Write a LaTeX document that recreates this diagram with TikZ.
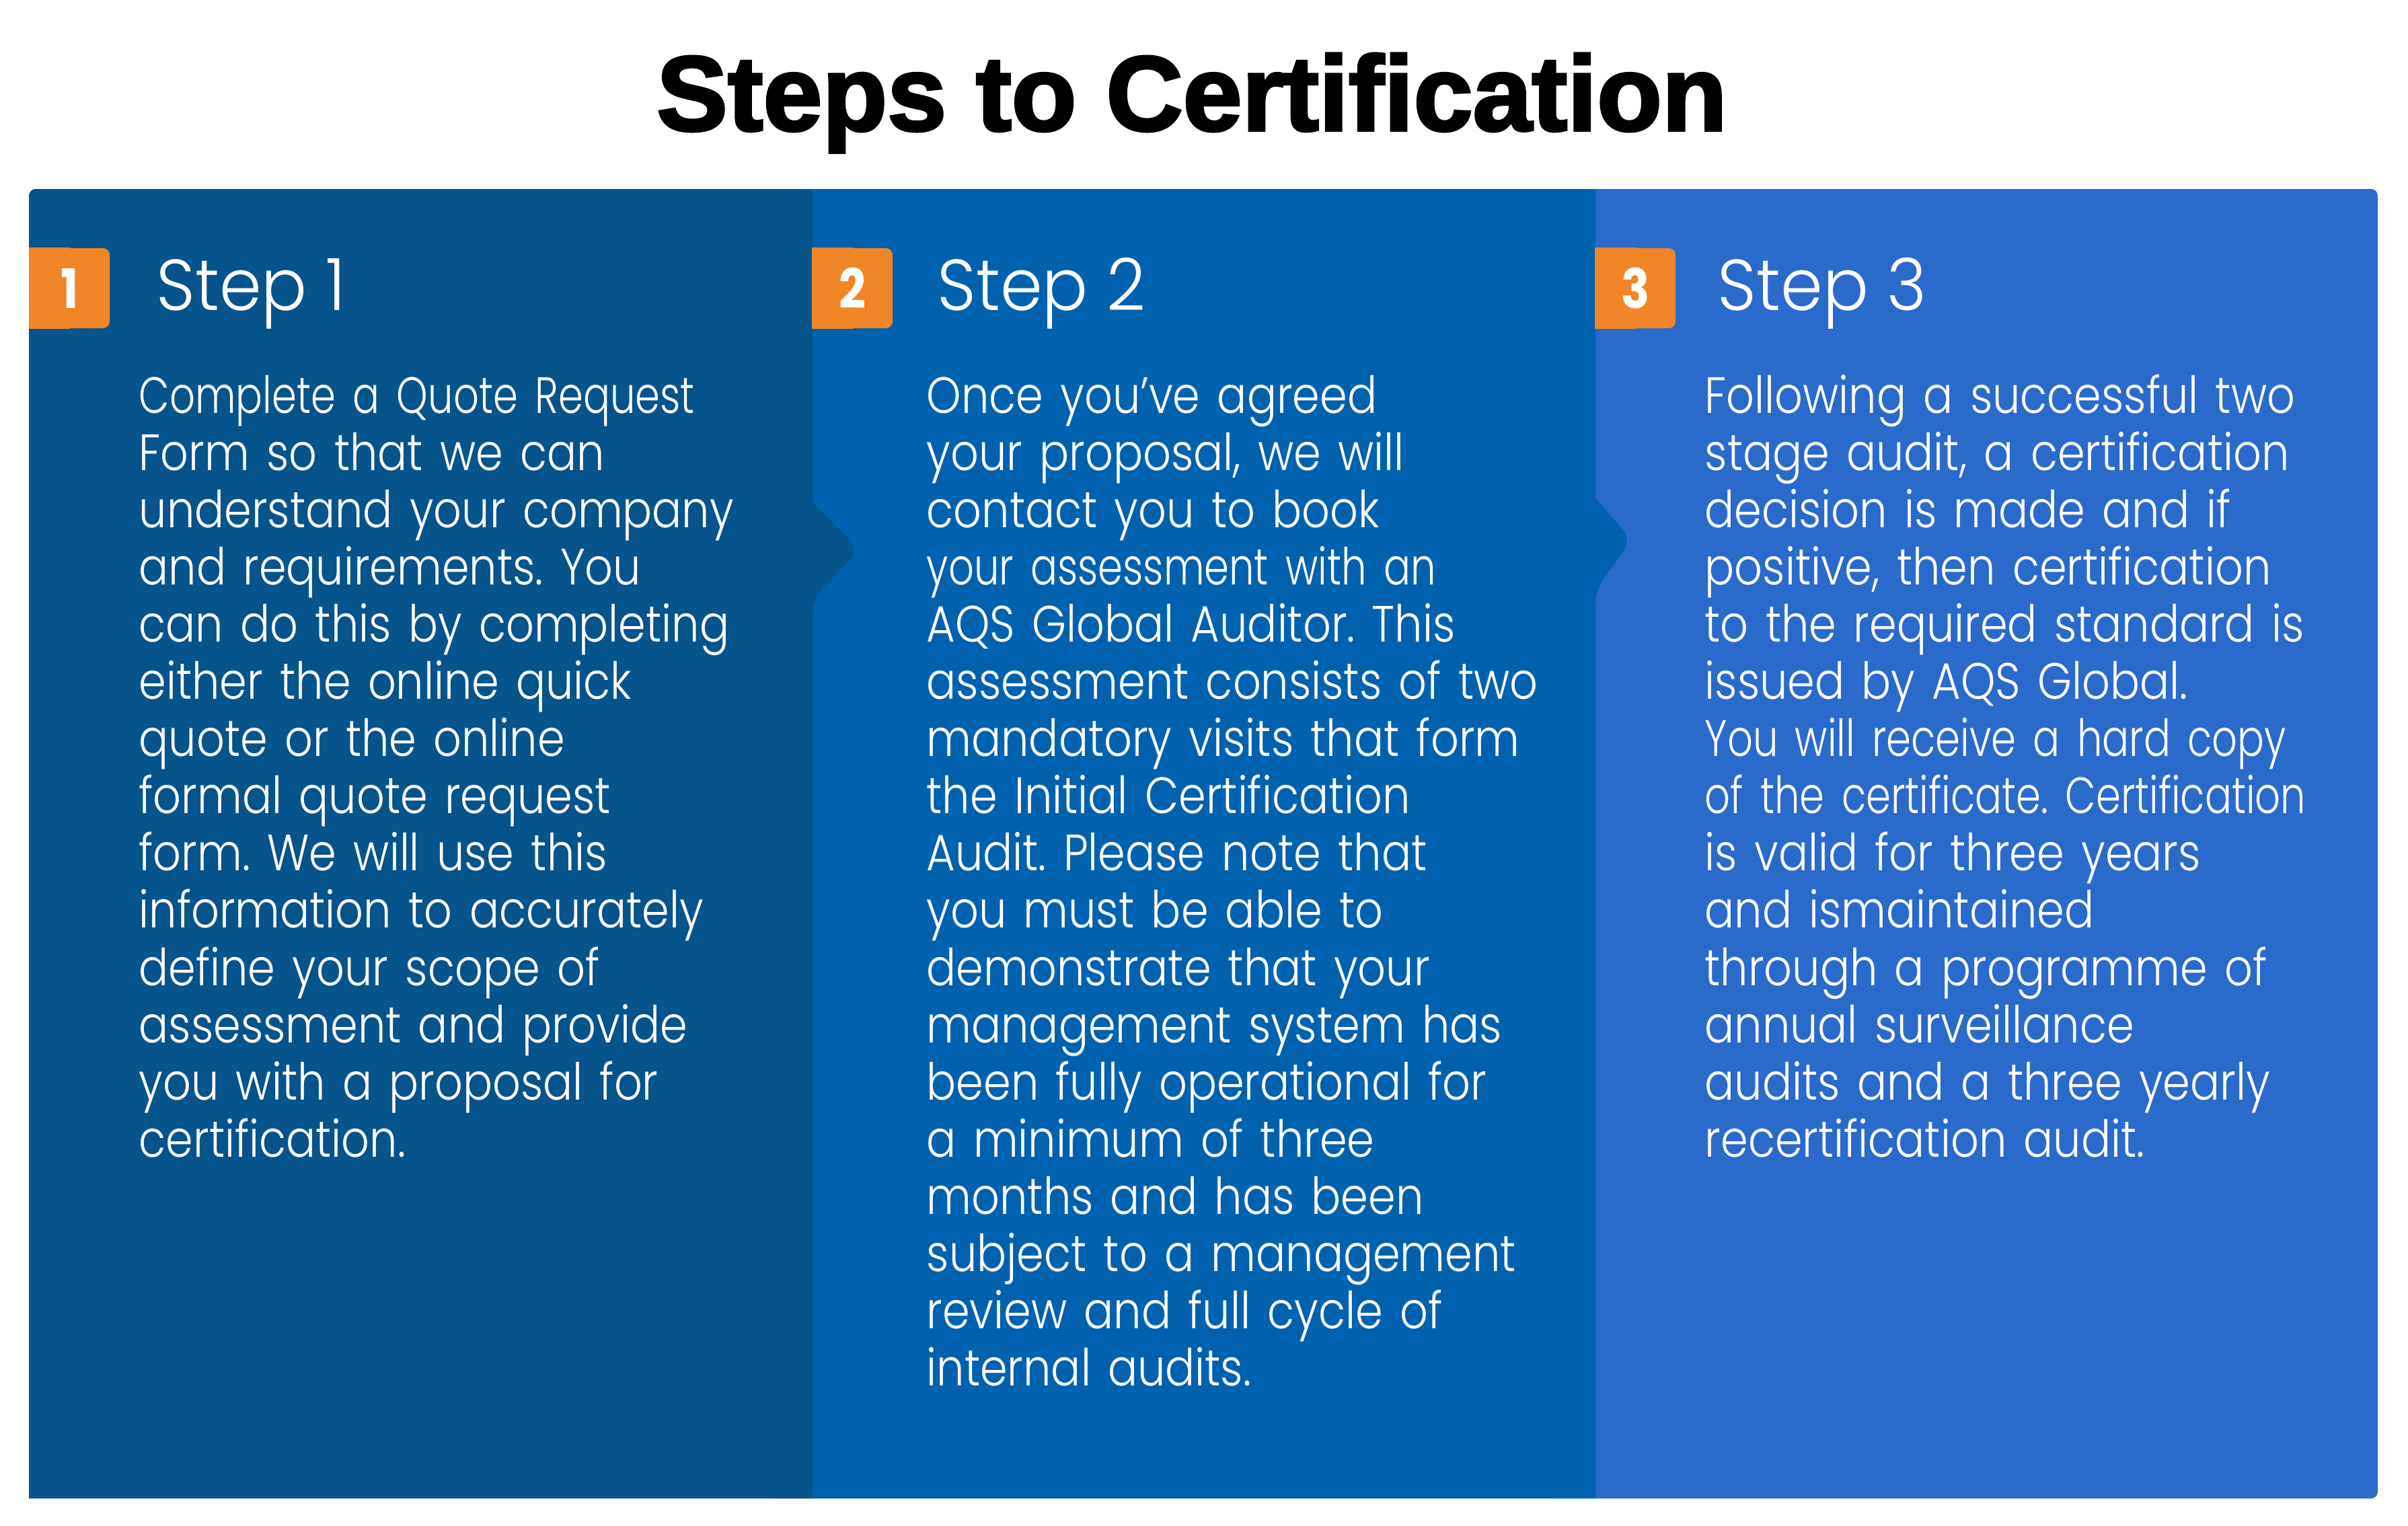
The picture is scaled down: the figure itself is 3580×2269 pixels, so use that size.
\documentclass[tikz,border=0pt]{standalone}
\usepackage{fontspec}
\setmainfont{Poppins Light}[FakeStretch=0.86, BoldFont=Poppins Bold]
\newfontfamily\stepfont{Poppins Light}[FakeStretch=0.94]
\newfontfamily\tightfont{Poppins Light}[FakeStretch=0.78]
\newfontfamily\titlefont{Liberation Sans}[BoldFeatures={FakeBold=2.5}]
\usetikzlibrary{positioning, calc}
\frenchspacing

\definecolor{panelone}{RGB}{7,83,140}
\definecolor{paneltwo}{RGB}{0,98,174}
\definecolor{panelthree}{RGB}{42,106,203}
\definecolor{badgeorange}{RGB}{240,134,40}

\begin{document}
\begin{tikzpicture}[
        x=0.01cm, y=-0.01cm,
        title/.style={anchor=base, inner sep=0pt, font=\titlefont\bfseries\fontsize{45}{45}\selectfont},
        badge/.style={fill=badgeorange, rounded corners=1mm, minimum width=1.19cm, minimum height=1.19cm, inner sep=0pt, text=white, font=\bfseries\fontsize{23}{23}\selectfont},
        stephead/.style={anchor=base west, inner sep=0pt, text=white, font=\stepfont\fontsize{30.5}{30.5}\selectfont},
        stepbody/.style={anchor=base west, inner sep=0pt, text=white, text width=12cm, align=left, font=\fontsize{21.6}{24.2}\selectfont}
    ]
    \useasboundingbox (0,0) rectangle (3580,2269);

    % panels, back to front
    \fill[panelthree, rounded corners=1mm] (2300,281) rectangle (3535,2228);
    \fill[paneltwo] (1150,281) -- (2372,281) -- (2372,740) [rounded corners=2mm] -- (2426,803) -- (2372,877) -- (2372,1000) [sharp corners] -- (2372,2228) -- (1150,2228) -- cycle;
    \fill[panelone] (1208,1000) -- (1208,2228) -- (43,2228) [rounded corners=1mm] -- (43,281) -- (1208,281) [sharp corners] -- (1208,747) [rounded corners=2mm] -- (1278,818) -- (1208,890) -- (1208,1000) [sharp corners] -- cycle;

    \node[title] (title) at (1772,194) {Steps to Certification};

    % badges
    \node[badge] (b1) at (103.5,428.5) {1};
    \node[badge] (b2) at (1267.5,428.5) {2};
    \node[badge] (b3) at (2431.5,428.5) {3};
    \fill[badgeorange] (b1.north west) rectangle (b1.south);
    \fill[badgeorange] (b2.north west) rectangle (b2.south);
    \fill[badgeorange] (b3.north west) rectangle (b3.south);
    \node[badge, fill=none] at (b1) {1};
    \node[badge, fill=none] at (b2) {2};
    \node[badge, fill=none] at (b3) {3};

    \node[stephead] (h1) at (232,461) {Step 1};
    \node[stephead] (h2) at (1393,461) {Step 2};
    \node[stephead] (h3) at (2553,461) {Step 3};

    \node[stepbody] (t1) at (206,614) {{\tightfont Complete a Quote Request}\\
        Form so that we can\\
        understand your company\\
        and requirements. You\\
        can do this by completing\\
        either the online quick\\
        quote or the online\\
        formal quote request\\
        form. We will use this\\
        information to accurately\\
        define your scope of\\
        assessment and provide\\
        you with a proposal for\\
        certification.};
    \node[stepbody] (t2) at (1377,614) {Once you’ve agreed\\
        your proposal, we will\\
        contact you to book\\
        {\tightfont your assessment with an}\\
        AQS Global Auditor. This\\
        assessment consists of two\\
        mandatory visits that form\\
        the Initial Certification\\
        Audit. Please note that\\
        you must be able to\\
        demonstrate that your\\
        management system has\\
        been fully operational for\\
        a minimum of three\\
        months and has been\\
        subject to a management\\
        review and full cycle of\\
        internal audits.};
    \node[stepbody] (t3) at (2534,614) {Following a successful two\\
        stage audit, a certification\\
        decision is made and if\\
        positive, then certification\\
        to the required standard is\\
        issued by AQS Global.\\
        {\tightfont You will receive a hard copy}\\
        {\tightfont of the certificate. Certification}\\
        is valid for three years\\
        and ismaintained\\
        through a programme of\\
        annual surveillance\\
        audits and a three yearly\\
        recertification audit.};
\end{tikzpicture}
\end{document}
